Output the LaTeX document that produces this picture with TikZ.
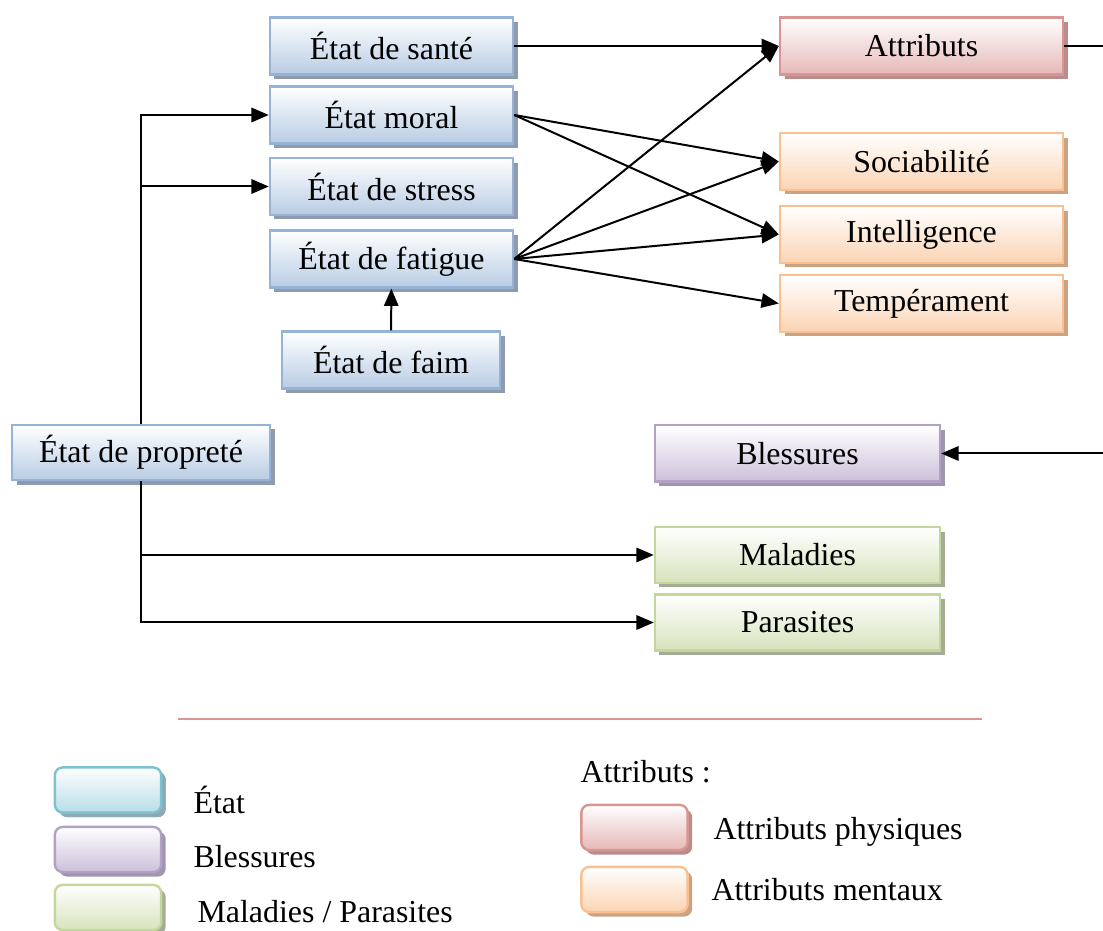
\documentclass[tikz,border=0pt]{standalone}
\usepackage{fontspec}
\setmainfont{Liberation Serif}
\usetikzlibrary{arrows.meta,shadows}
\definecolor{etatblue}{RGB}{149,179,215}
\definecolor{etatfill}{RGB}{184,204,228}
\definecolor{etatshadow}{RGB}{143,155,173}
\definecolor{legcyan}{RGB}{125,193,212}
\definecolor{legcyanfill}{RGB}{183,221,232}
\definecolor{legcyanshadow}{RGB}{140,170,178}
\definecolor{attrred}{RGB}{217,149,148}
\definecolor{attrredfill}{RGB}{229,184,183}
\definecolor{attrredshadow}{RGB}{186,140,140}
\definecolor{attrorange}{RGB}{250,192,143}
\definecolor{attrorangefill}{RGB}{251,212,180}
\definecolor{attrorangeshadow}{RGB}{203,162,130}
\definecolor{blesspurple}{RGB}{178,161,199}
\definecolor{blesspurplefill}{RGB}{204,192,218}
\definecolor{blesspurpleshadow}{RGB}{160,150,172}
\definecolor{malgreen}{RGB}{195,214,155}
\definecolor{malgreenfill}{RGB}{214,227,188}
\definecolor{malgreenshadow}{RGB}{165,172,150}
\tikzset{
  boite/.style n args={3}{draw=#1, line width=0.9pt, inner sep=0pt,
    top color=white, bottom color=#2,
    drop shadow={shadow xshift=1.7pt, shadow yshift=-1.7pt, fill=#3, opacity=1},
    font=\fontsize{12pt}{14pt}\selectfont},
  etatbox/.style={boite={etatblue}{etatfill}{etatshadow}, minimum width=91.4pt, minimum height=21.4pt},
  attrbox/.style={boite={attrred}{attrredfill}{attrredshadow}, minimum width=106.4pt, minimum height=21.4pt},
  mentbox/.style={boite={attrorange}{attrorangefill}{attrorangeshadow}, minimum width=106.4pt, minimum height=21.4pt},
  blessbox/.style={boite={blesspurple}{blesspurplefill}{blesspurpleshadow}, minimum width=107.2pt, minimum height=21.2pt},
  malbox/.style={boite={malgreen}{malgreenfill}{malgreenshadow}, minimum width=107.2pt, minimum height=21pt},
  legbox/.style={rounded corners=3pt, minimum width=40pt, minimum height=17pt},
  legtext/.style={anchor=west, inner sep=0pt, font=\fontsize{12pt}{14pt}\selectfont},
  fleche/.style={-{Triangle[length=6.5pt,width=5.4pt]}, line width=0.75pt},
}

\begin{document}
\begin{tikzpicture}[x=0.376pt, y=-0.376pt]
\useasboundingbox (0,0) rectangle (1103,931);
% etats
\node[etatbox] (sante) at (391.5,46) {État de santé};
\node[etatbox] (moral) at (391.5,115) {État moral};
\node[etatbox] (stress) at (391.5,186.5) {État de stress};
\node[etatbox] (fatigue) at (391.5,259) {État de fatigue};
\node[etatbox, minimum width=82pt] (faim) at (391,360) {État de faim};
\node[etatbox, minimum width=97pt, minimum height=20.7pt] (proprete) at (141,452.5) {État de propreté};
% attributs
\node[attrbox] (attributs) at (921.5,46) {Attributs};
\node[mentbox] (sociabilite) at (921.5,161.5) {Sociabilité};
\node[mentbox] (intelligence) at (921.5,234.5) {Intelligence};
\node[mentbox] (temperament) at (921.5,303.5) {Tempérament};
% blessures, maladies
\node[blessbox] (blessures) at (797.5,453.5) {Blessures};
\node[malbox] (maladies) at (797.5,555) {Maladies};
\node[malbox] (parasites) at (797.5,622.5) {Parasites};
% liens
\draw[fleche] (sante.east) -- (attributs.west);
\draw[fleche] (moral.east) -- (sociabilite.west);
\draw[fleche] (moral.east) -- (intelligence.west);
\foreach \cible in {attributs,sociabilite,intelligence,temperament} {
  \draw[fleche] (fatigue.east) -- (\cible.west);
}
\draw[fleche] (faim) -- (fatigue);
\draw[fleche] (proprete.north) |- (moral.west);
\draw[fleche] (proprete.north) |- (stress.west);
\draw[fleche] (proprete.south) |- (maladies.west);
\draw[fleche] (proprete.south) |- (parasites.west);
\coordinate (horscadre) at (1140,46);
\draw[fleche] (attributs.east) -- (horscadre) |- (blessures.east);
% legende
\draw[attrred, line width=0.6pt] (178,719) -- (982,719);
\node[etatbox, boite={legcyan}{legcyanfill}{legcyanshadow}, legbox] (legetat) at (108,790) {};
\node[blessbox, legbox] (legbless) at (108,849.5) {};
\node[malbox, legbox] (legmal) at (108,907.5) {};
\node[legtext] (labetat) at (193,800) {État};
\node[legtext] (labbless) at (193,857) {Blessures};
\node[legtext] (labmal) at (197,912) {Maladies / Parasites};
\node[legtext] (labattr) at (580,772) {Attributs :};
\node[attrbox, legbox] (legphys) at (634.5,827.5) {};
\node[mentbox, legbox] (legment) at (634.5,889.5) {};
\node[legtext] (labphys) at (713,832) {Attributs physiques};
\node[legtext] (labment) at (711,890) {Attributs mentaux};
\end{tikzpicture}
\end{document}
